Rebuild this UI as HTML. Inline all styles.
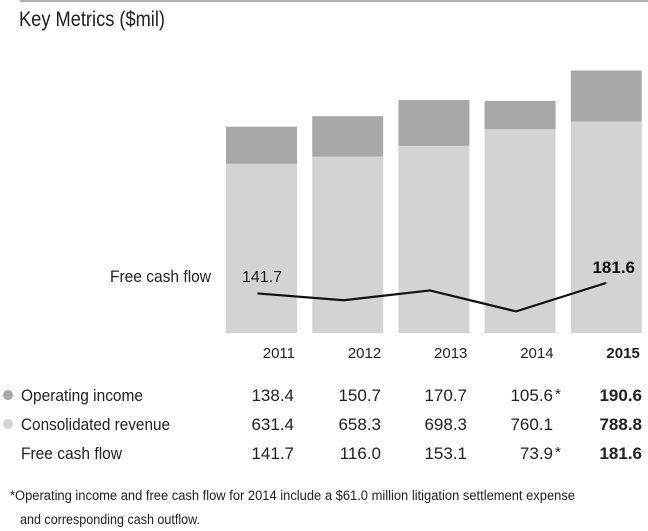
<!DOCTYPE html>
<html><head><meta charset="utf-8"><style>
html,body{margin:0;padding:0;background:#fff;}
svg{display:block;font-family:"Liberation Sans Narrow","Liberation Sans",sans-serif;}
</style></head><body>
<svg id="chart" width="648" height="531" viewBox="0 0 648 531">
<line x1="20" y1="1" x2="648" y2="1" stroke="#999" stroke-width="1.5"/>
<text x="19" y="26" font-size="21" fill="#222" textLength="146" lengthAdjust="spacingAndGlyphs">Key Metrics ($mil)</text>
<g id="bars"></g>
<g id="line"></g>
<text x="110" y="282" font-size="17" fill="#222" textLength="101" lengthAdjust="spacingAndGlyphs">Free cash flow</text>
<g id="table"></g>
<text x="10" y="500" font-size="13.5" fill="#222" textLength="565" lengthAdjust="spacingAndGlyphs">*Operating income and free cash flow for 2014 include a $61.0 million litigation settlement expense</text>
<text x="20" y="524" font-size="13.5" fill="#222" textLength="180" lengthAdjust="spacingAndGlyphs">and corresponding cash outflow.</text>
</svg>
<script>
const years = ["2011","2012","2013","2014","2015"];
const opIncome = [138.4,150.7,170.7,105.6,190.6];
const revenue = [631.4,658.3,698.3,760.1,788.8];
const fcf = [141.7,116.0,153.1,73.9,181.6];
const opLabels = ["138.4","150.7","170.7","105.6","190.6"];
const revLabels = ["631.4","658.3","698.3","760.1","788.8"];
const fcfLabels = ["141.7","116.0","153.1","73.9","181.6"];

const NS="http://www.w3.org/2000/svg";
const barW=71, x0=226, step=86.2, base=333, k=0.268;
const xBar=i=>x0+i*step;
const yBar=v=>base-v*k;
const yLine=v=>331-v*0.265;
function mk(tag,attrs,parent){const e=document.createElementNS(NS,tag);for(const a in attrs)e.setAttribute(a,attrs[a]);parent.appendChild(e);return e;}
const bars=document.getElementById('bars');
years.forEach((y,i)=>{
  const r=mk('rect',{x:xBar(i),y:yBar(revenue[i]),width:barW,height:base-yBar(revenue[i]),fill:'#d3d3d3'},bars);
  
  
  const o=mk('rect',{x:xBar(i),y:yBar(revenue[i]+opIncome[i]),width:barW,height:opIncome[i]*k,fill:'#a8a8a8'},bars);
  
  
  const t=mk('text',{x:xBar(i)+barW-2,y:358,'font-size':15,'text-anchor':'end',fill:'#222','font-weight':i===4?'bold':'normal'},bars);
  t.textContent=y;
  
  
});
const lg=document.getElementById('line');
const pts=fcf.map((v,i)=>(xBar(i)+barW/2-4+(i===4?4:0))+','+yLine(v)).join(' ');
const pl=mk('polyline',{points:pts,fill:'none',stroke:'#111','stroke-width':2.2},lg);


const l1=mk('text',{x:242,y:282,'font-size':16,fill:'#222'},lg);
l1.textContent=fcfLabels[0];


const l2=mk('text',{x:635,y:273,'font-size':17,fill:'#111','font-weight':'bold','text-anchor':'end'},lg);
l2.textContent=fcfLabels[4];



const tb=document.getElementById('table');
const rows=[["Operating income",opLabels,'#a8a8a8',["","","","*",""],122],["Consolidated revenue",revLabels,'#d3d3d3',["","","","",""],149],["Free cash flow",fcfLabels,null,["","","","*",""],101]];
const colR=[294,381,467,553,642];
rows.forEach((r,ri)=>{
  const y=401+ri*29;
  if(r[2]){const c=mk('circle',{cx:8,cy:y-6,r:5,fill:r[2]},tb);
    
    }
  const lab=mk('text',{x:21,y:y,'font-size':17,fill:'#222',textLength:r[4],lengthAdjust:'spacingAndGlyphs'},tb);
  lab.textContent=r[0];
  
  
  r[1].forEach((v,i)=>{
    const t=mk('text',{x:colR[i],y:y,'font-size':17,'text-anchor':'end',fill:'#222','font-weight':i===4?'bold':'normal'},tb);
    t.textContent=v;
    
    
    if(r[3][i]){const s=mk('text',{x:colR[i]+2,y:y-2,'font-size':15,fill:'#222'},tb);
      s.textContent='*';
      
      }
  });
});
</script>
</body></html>
